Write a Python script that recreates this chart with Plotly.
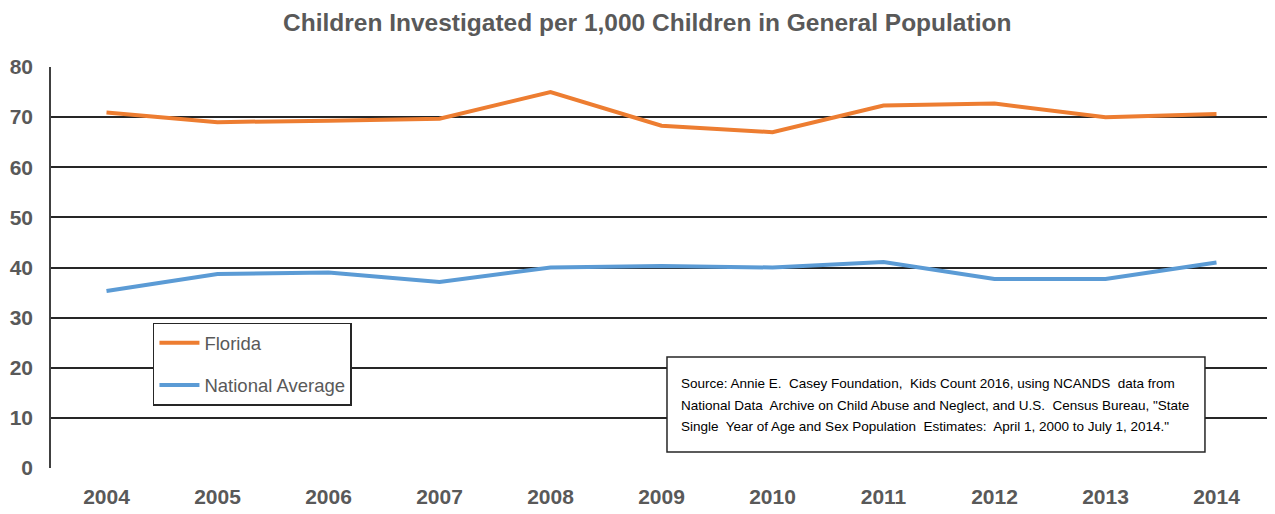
"""Children investigated per 1,000 children - Florida vs national average"""
import plotly.graph_objects as go

years = ['2004', '2005', '2006', '2007', '2008', '2009',
         '2010', '2011', '2012', '2013', '2014']
florida = [70.9, 69.0, 69.3, 69.7, 75.0, 68.3, 67.0, 72.3, 72.7, 70.0, 70.6]
national = [35.3, 38.7, 39.0, 37.1, 40.0, 40.3, 40.0, 41.1, 37.7, 37.7, 41.0]
y_ticks = [0, 10, 20, 30, 40, 50, 60, 70, 80]

source_lines = [
    'Source: Annie E.  Casey Foundation,  Kids Count 2016, using NCANDS  data from',
    'National Data  Archive on Child Abuse and Neglect, and U.S.  Census Bureau, "State',
    'Single  Year of Age and Sex Population  Estimates:  April 1, 2000 to July 1, 2014."',
]

NARROW = 'Liberation Sans Narrow, Arial Narrow, Liberation Sans, Arial'
GREY = '#595959'

fig = go.Figure()

fig.add_trace(go.Scatter(
    x=years, y=florida, mode='lines', name='Florida', legendgroup='fl',
    line=dict(color='#ED7D31', width=4)
))
fig.add_trace(go.Scatter(
    x=years, y=national, mode='lines', name='National Average', legendgroup='na',
    line=dict(color='#5B9BD5', width=4)
))

# source box: frame + one annotation per line (wider line spacing than plotly's default)
fig.add_shape(type='rect', xref='paper', yref='paper',
              x0=0.5045, x1=0.9451, y0=0.040, y1=0.2768,
              line=dict(color='#262626', width=1.5), fillcolor='white', layer='above')
for i, line in enumerate(source_lines):
    fig.add_annotation(
        text=line, xref='paper', yref='paper',
        x=0.5143, y=0.2095 - i * 0.0524, xanchor='left', yanchor='middle',
        showarrow=False, align='left',
        font=dict(family=NARROW, size=13.5, color='black')
    )

# body has an 8px margin in the page, so the figure is shrunk to fit the window
fig.update_layout(
    width=1267, height=506,
    margin=dict(l=43, r=3, t=59, b=46),
    paper_bgcolor='white', plot_bgcolor='white',
    font=dict(family=NARROW, color=GREY),
    title=dict(
        text='<b>Children Investigated per 1,000 Children in General Population</b>',
        x=0.5045, xref='container', xanchor='center',
        y=0.972, yref='container', yanchor='middle',
        font=dict(family=NARROW, size=24.5, color=GREY),
        automargin=False
    ),
    showlegend=True,
    legend=dict(
        x=0.0835, y=0.362, xanchor='left', yanchor='top',
        bgcolor='white', bordercolor='#262626', borderwidth=1.5,
        font=dict(family=NARROW, size=18.5, color=GREY),
        tracegroupgap=15, itemwidth=40,
        entrywidth=184, entrywidthmode='pixels'
    ),
    xaxis=dict(
        type='category', range=[-0.5, 10.5], automargin=False,
        showgrid=False, showline=False, ticks='',
        tickfont=dict(family=NARROW, size=21, color=GREY, weight='bold'),
        ticklabelstandoff=14
    ),
    yaxis=dict(
        range=[0, 80], tickvals=y_ticks, automargin=False,
        showgrid=True, gridcolor='#262626', gridwidth=1.5,
        showline=True, linecolor='#404040', linewidth=1.5,
        zeroline=False, ticks='',
        tickfont=dict(family=NARROW, size=21, color=GREY, weight='bold'),
        ticklabelstandoff=12
    ),
)

fig.write_html("out.html")
